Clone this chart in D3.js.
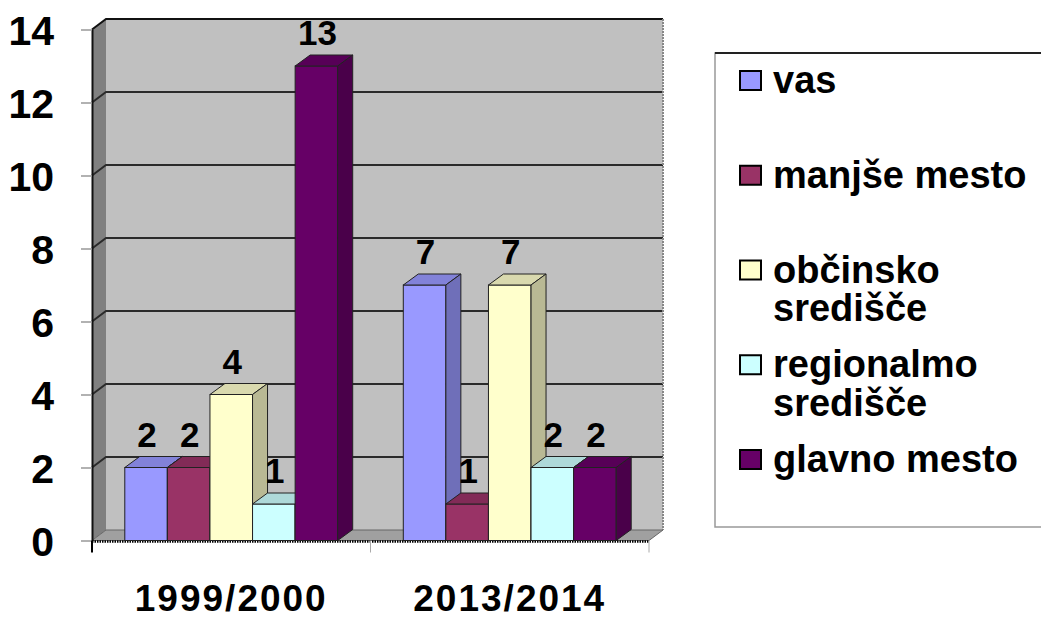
<!DOCTYPE html>
<html>
<head>
<meta charset="utf-8">
<script src="https://cdn.jsdelivr.net/npm/d3@7"></script>
<style>
  body { margin: 0; background: #fff; }
  text { font-family: "Liberation Sans", Arial, sans-serif; font-weight: bold; fill: #000; }
</style>
</head>
<body>
<script>
// data
var categories = ["1999/2000", "2013/2014"];
var series = ["vas", "manjše mesto", "občinsko središče", "regionalmo središče", "glavno mesto"];
var legendLines = [["vas"], ["manjše mesto"], ["občinsko", "središče"], ["regionalmo", "središče"], ["glavno mesto"]];
var values1999 = [2, 2, 4, 1, 13];
var values2013 = [7, 1, 7, 2, 2];
var yTicks = [0, 2, 4, 6, 8, 10, 12, 14];
var colors = ["#9999FF", "#993366", "#FFFFCC", "#CCFFFF", "#660066"];

var screen = {width: 1041, height: 617};

var svg = d3.select("body")
            .append("svg")
            .attr("width", screen.width)
            .attr("height", screen.height);

// depth offsets for the 3d look
var wdx = 14, wdy = -10.5;
var bdx = 15, bdy = -11;

var y = d3.scaleLinear().domain([0, 14]).range([540.5, 29.5]);
var x0 = d3.scaleBand().domain(categories).range([92, 649]);
var x1 = d3.scaleBand().domain(series)
           .range([0, x0.bandwidth()])
           .paddingInner(0).paddingOuter(0.77);
var color = d3.scaleOrdinal().domain(series).range(colors);

var left = x0.range()[0], right = x0.range()[1];
var y0 = y(0), yTop = y(14);

// walls
svg.append("polygon")
   .attr("points", [[left, yTop], [left + wdx, yTop + wdy], [left + wdx, y0 + wdy], [left, y0]].join(" "))
   .attr("fill", "#808080");
svg.append("rect")
   .attr("x", left + wdx).attr("y", yTop + wdy)
   .attr("width", right - left).attr("height", y0 - yTop)
   .attr("fill", "#C0C0C0");

// gridlines
var grid = svg.append("g");
yTicks.filter(function(d) { return d > 0; }).forEach(function(t) {
  grid.append("polyline")
      .attr("points", [[left, y(t)], [left + wdx, y(t) + wdy], [right + wdx, y(t) + wdy]].join(" "))
      .attr("fill", "none")
      .attr("stroke", t == 14 ? "#111" : "#2a2a2a")
      .attr("stroke-width", 2);
});

svg.append("line")
   .attr("x1", right + wdx).attr("x2", right + wdx)
   .attr("y1", yTop + wdy).attr("y2", y0 + wdy)
   .attr("stroke", "#888").attr("stroke-width", 2)
   .attr("stroke-dasharray", "2,1");

// floor
svg.append("polygon")
   .attr("points", [[left, y0], [right, y0], [right + wdx, y0 + wdy], [left + wdx, y0 + wdy]].join(" "))
   .attr("fill", "#A0A0A0")
   .attr("stroke", "#666").attr("stroke-width", 1);

// y axis
var yAxis = svg.append("g")
   .attr("transform", "translate(" + left + ",0)")
   .call(d3.axisLeft(y).tickValues(yTicks).tickSize(11).tickSizeOuter(0).tickPadding(27));
yAxis.select(".domain").attr("stroke", "#111").attr("stroke-width", 2);
yAxis.selectAll(".tick line").attr("stroke", "#999").attr("stroke-width", 1.5);
yAxis.selectAll(".tick text")
     .style("font-size", "41px").attr("dy", "0.36em");

// x axis
var xAxis = svg.append("g")
   .attr("transform", "translate(0," + y0 + ")")
   .call(d3.axisBottom(x0).tickSize(0).tickSizeOuter(0));
xAxis.select(".domain").remove();
xAxis.selectAll(".tick text")
     .attr("y", 70).attr("dy", 0)
     .style("font-size", "37px")
     .style("letter-spacing", "2px");

svg.append("line")
   .attr("x1", left).attr("x2", right)
   .attr("y1", y0 + 1).attr("y2", y0 + 1)
   .attr("stroke", "#000").attr("stroke-width", 2.5)
   .attr("stroke-dasharray", "1.5,1");
[left, x0(categories[1]), right].forEach(function(px, i) {
  svg.append("line")
     .attr("x1", px).attr("x2", px)
     .attr("y1", y0).attr("y2", y0 + 12)
     .attr("stroke", i == 0 ? "#000" : "#aaa")
     .attr("stroke-width", i == 0 ? 2 : 1);
});

// bars
var tableData = [];
categories.forEach(function(c, ci) {
  var vals = ci == 0 ? values1999 : values2013;
  series.forEach(function(s, si) {
    tableData.push({cat: c, ser: s, value: vals[si]});
  });
});

var bars = svg.append("g")
              .selectAll("g")
              .data(tableData)
              .enter()
              .append("g");

var bw = x1.bandwidth();
var bx = function(d) { return x0(d.cat) + x1(d.ser); };

bars.append("rect")
    .attr("x", bx)
    .attr("y", function(d) { return y(d.value); })
    .attr("width", bw)
    .attr("height", function(d) { return y0 - y(d.value); })
    .attr("fill", function(d) { return color(d.ser); })
    .attr("stroke", "#222").attr("stroke-width", 1);

bars.append("polygon")
    .attr("points", function(d) {
      var x = bx(d), t = y(d.value);
      return [[x, t], [x + bdx, t + bdy], [x + bw + bdx, t + bdy], [x + bw, t]].join(" ");
    })
    .attr("fill", function(d) { return d3.color(color(d.ser)).darker(0.45); })
    .attr("stroke", "#222").attr("stroke-width", 1);

bars.append("polygon")
    .attr("points", function(d) {
      var x = bx(d) + bw, t = y(d.value);
      return [[x, t], [x + bdx, t + bdy], [x + bdx, y0 + bdy], [x, y0]].join(" ");
    })
    .attr("fill", function(d) { return d3.color(color(d.ser)).darker(0.9); })
    .attr("stroke", "#222").attr("stroke-width", 1);

// value labels
svg.append("g")
   .selectAll("text")
   .data(tableData)
   .enter()
   .append("text")
   .text(function(d) { return d.value; })
   .attr("x", function(d) { return bx(d) + bw / 2 + 1; })
   .attr("y", function(d) { return y(d.value) - 21; })
   .attr("text-anchor", "middle")
   .style("font-size", "35px");

// legend
var legend = svg.append("g");
legend.append("rect")
      .attr("x", 715).attr("y", 53)
      .attr("width", 340).attr("height", 474)
      .attr("fill", "#fff")
      .attr("stroke", "#999").attr("stroke-width", 1.5);
legend.append("line")
      .attr("x1", 715).attr("x2", 1041)
      .attr("y1", 53).attr("y2", 53)
      .attr("stroke", "#222").attr("stroke-width", 2);

var items = legend.selectAll("g.item")
                  .data(series)
                  .enter()
                  .append("g")
                  .attr("transform", function(d, i) { return "translate(740," + (93 + i * 94.75) + ")"; });

items.append("rect")
     .attr("x", 0).attr("y", -22)
     .attr("width", 21).attr("height", 19)
     .attr("fill", function(d) { return color(d); })
     .attr("stroke", "#000").attr("stroke-width", 2);

items.append("text")
     .attr("x", 33)
     .style("font-size", "38px")
     .each(function(d, i) {
       var t = d3.select(this);
       legendLines[i].forEach(function(line, li) {
         t.append("tspan").attr("x", 33).attr("y", li * 38.5).text(line);
       });
     });
</script>
</body>
</html>
